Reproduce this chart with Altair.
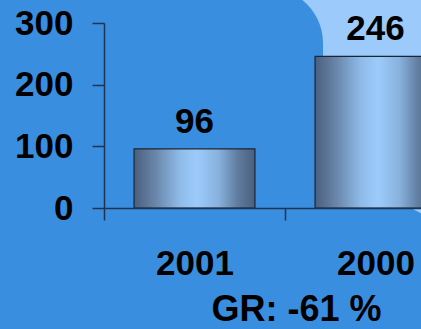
import altair as alt
import pandas as pd

# Chart values
years = ["2001", "2000"]
values = [96, 246]
value_labels = ["96", "246"]
y_ticks = [0, 100, 200, 300]
growth_text = "GR: -61 %"

FONT = "Liberation Sans"
BG = "#3a8ee0"
LIGHT = "#9ccafa"
AXIS = "#1e3350"

df = pd.DataFrame({"year": years, "value": values, "label": value_labels})
blank = alt.Data(values=[{}])

# Decorative light-blue blob in the upper right corner
blob_top = alt.Chart(blank).mark_rect(color=LIGHT).encode(
    x=alt.value(219), x2=alt.value(500), y=alt.value(-90), y2=alt.value(127)
)
blob_low = alt.Chart(blank).mark_rect(color=LIGHT, cornerRadiusBottomLeft=100).encode(
    x=alt.value(258), x2=alt.value(500), y=alt.value(-100), y2=alt.value(199)
)
flare = alt.Chart(blank).mark_rect(color=LIGHT).encode(
    x=alt.value(176), x2=alt.value(226), y=alt.value(-90), y2=alt.value(22)
)
flare_cut = alt.Chart(blank).mark_rect(color=BG, cornerRadiusTopRight=55).encode(
    x=alt.value(40), x2=alt.value(219), y=alt.value(-35), y2=alt.value(80)
)

bar_fill = alt.Gradient(
    gradient="linear",
    x1=0, x2=1, y1=0, y2=0,
    stops=[
        alt.GradientStop(color="#4a5f7e", offset=0),
        alt.GradientStop(color="#6a87ab", offset=0.18),
        alt.GradientStop(color="#8fbbe9", offset=0.38),
        alt.GradientStop(color="#9ccbfb", offset=0.52),
        alt.GradientStop(color="#88b1dd", offset=0.7),
        alt.GradientStop(color="#5f7b9e", offset=0.86),
        alt.GradientStop(color="#4a5f7e", offset=1),
    ],
)

x_enc = alt.X(
    "year:N",
    sort=years,
    scale=alt.Scale(range=[0, 362], paddingInner=0, paddingOuter=0),
    axis=alt.Axis(
        title=None, labelAngle=0, labelFont=FONT, labelFontSize=35,
        labelFontWeight="bold", labelColor="black", labelPadding=26,
        tickBand="extent", tickSize=12, tickColor=AXIS, tickWidth=1.5,
        domainColor=AXIS, domainWidth=1.5, zindex=1,
    ),
)
y_enc = alt.Y(
    "value:Q",
    scale=alt.Scale(domain=[0, 300], nice=False),
    axis=alt.Axis(
        title=None, values=y_ticks, grid=False, labelFont=FONT, labelFontSize=35,
        labelFontWeight="bold", labelColor="black", labelPadding=19,
        tickSize=12, tickColor=AXIS, tickWidth=1.5,
        domainColor=AXIS, domainWidth=1.5, zindex=1,
    ),
)

bars = alt.Chart(df).mark_bar(
    fill=bar_fill, stroke="#1b2633", strokeWidth=1.2,
    width=alt.RelativeBandSize(0.668),
).encode(x=x_enc, y=y_enc)

bar_text = alt.Chart(df).mark_text(
    dy=-16, baseline="alphabetic", font=FONT, fontSize=35, fontWeight="bold", color="black"
).encode(x=x_enc, y=y_enc, text="label:N")

growth = alt.Chart(alt.Data(values=[{"t": growth_text}])).mark_text(
    align="center", baseline="alphabetic", font=FONT, fontSize=36,
    fontWeight="bold", color="black"
).encode(x=alt.value(192.5), y=alt.value(298), text="t:N")

chart = alt.layer(
    blob_top, blob_low, flare, flare_cut, bars, bar_text, growth
).properties(
    width=317,
    height=185,
    autosize=alt.AutoSizeParams(type="none"),
    padding={"left": 104, "top": 23, "right": 0, "bottom": 121},
    background=BG,
).configure_view(stroke=None)

chart.save("out.html", embed_options={"renderer": "svg", "actions": False})
